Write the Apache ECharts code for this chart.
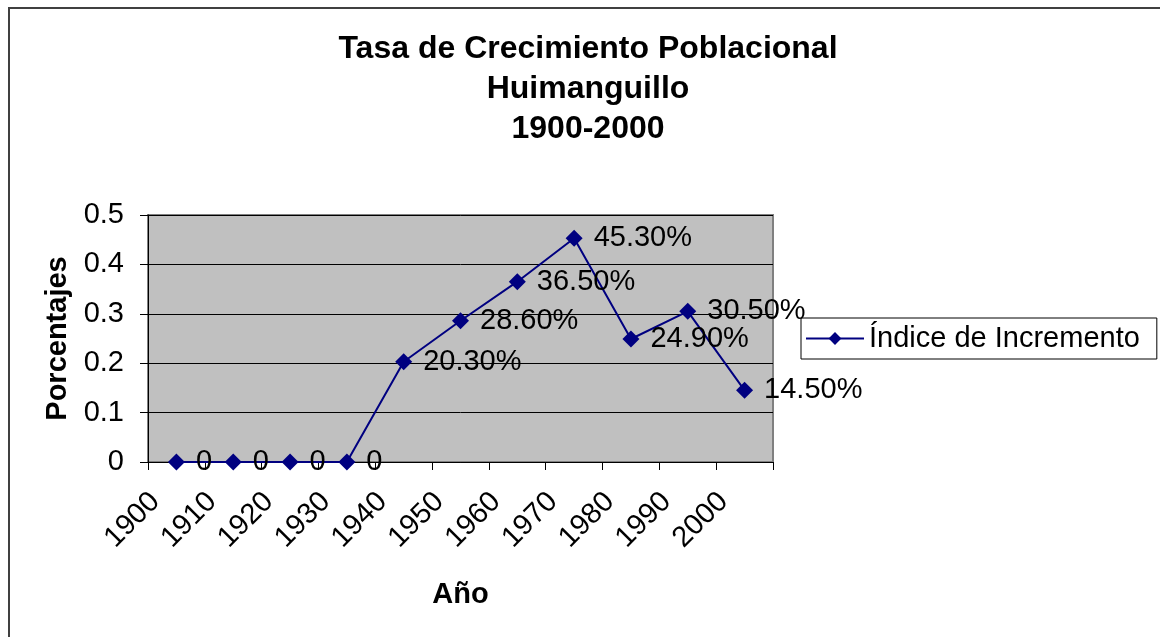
<!DOCTYPE html>
<html>
<head>
<meta charset="utf-8">
<script src="https://cdn.jsdelivr.net/npm/echarts@6/dist/echarts.min.js"></script>
<style>
  body { margin: 0; background: #fff; }
  #frame { position: absolute; left: 8px; top: 7px; width: 1200px; height: 700px; border-left: 2px solid #404040; border-top: 2px solid #404040; }
  #main { position: absolute; left: 0; top: 0; width: 1160px; height: 637px; }
</style>
</head>
<body>
<div id="frame"></div>
<div id="main"></div>
<script>
  // años del eje x
  var years = ['1900', '1910', '1920', '1930', '1940', '1950', '1960', '1970', '1980', '1990', '2000'];
  // índice de incremento (fracción)
  var indice = [0, 0, 0, 0, 0.203, 0.286, 0.365, 0.453, 0.249, 0.305, 0.145];

  var font = 'Liberation Sans, Arial, sans-serif';
  var myChart = echarts.init(document.getElementById('main'));

  var option = {
    animation: false,
    title: {
      text: 'Tasa de Crecimiento Poblacional\nHuimanguillo\n1900-2000',
      left: 583,
      textAlign: 'center',
      top: 24,
      textStyle: { fontFamily: font, fontSize: 32, fontWeight: 'bold', color: '#000', lineHeight: 40 }
    },
    legend: {
      left: 801,
      top: 318,
      orient: 'vertical',
      borderColor: '#000',
      borderWidth: 1,
      padding: [6, 17, 6, 4],
      itemWidth: 58,
      itemHeight: 16,
      textStyle: { fontFamily: font, fontSize: 29, color: '#000' },
      data: ['Índice de Incremento']
    },
    grid: {
      left: 148,
      right: 387,
      top: 215,
      bottom: 175,
      show: true,
      backgroundColor: '#C0C0C0',
      borderColor: '#808080',
      borderWidth: 2
    },
    xAxis: {
      type: 'category',
      data: years,
      boundaryGap: true,
      name: 'Año',
      nameLocation: 'middle',
      nameGap: 118,
      nameTextStyle: { fontFamily: font, fontSize: 29, fontWeight: 'bold', color: '#000' },
      axisLine: { lineStyle: { color: '#000', width: 1 } },
      axisTick: { show: true, length: 8, lineStyle: { color: '#000' } },
      axisLabel: {
        rotate: 45,
        interval: 0,
        margin: 14,
        padding: [0, 30, 0, 0],
        fontFamily: font,
        fontSize: 29,
        color: '#000'
      }
    },
    yAxis: {
      type: 'value',
      min: 0,
      max: 0.5,
      interval: 0.1,
      name: 'Porcentajes',
      nameLocation: 'middle',
      nameGap: 76,
      nameTextStyle: { fontFamily: font, fontSize: 29, fontWeight: 'bold', color: '#000' },
      axisLine: { show: true, lineStyle: { color: '#000', width: 1 } },
      axisTick: { show: true, length: 8, lineStyle: { color: '#000' } },
      axisLabel: { margin: 24, fontFamily: font, fontSize: 29, color: '#000' },
      splitLine: { lineStyle: { color: '#000', width: 1 } }
    },
    series: [{
      name: 'Índice de Incremento',
      type: 'line',
      data: indice,
      symbol: 'diamond',
      symbolSize: 17,
      lineStyle: { color: '#000080', width: 2 },
      itemStyle: { color: '#000080' },
      label: {
        show: true,
        position: 'right',
        distance: 11,
        fontFamily: font,
        fontSize: 29,
        color: '#000',
        formatter: function (p) {
          return p.value === 0 ? '0' : (p.value * 100).toFixed(2) + '%';
        }
      }
    }]
  };
  myChart.setOption(option);
</script>
</body>
</html>
